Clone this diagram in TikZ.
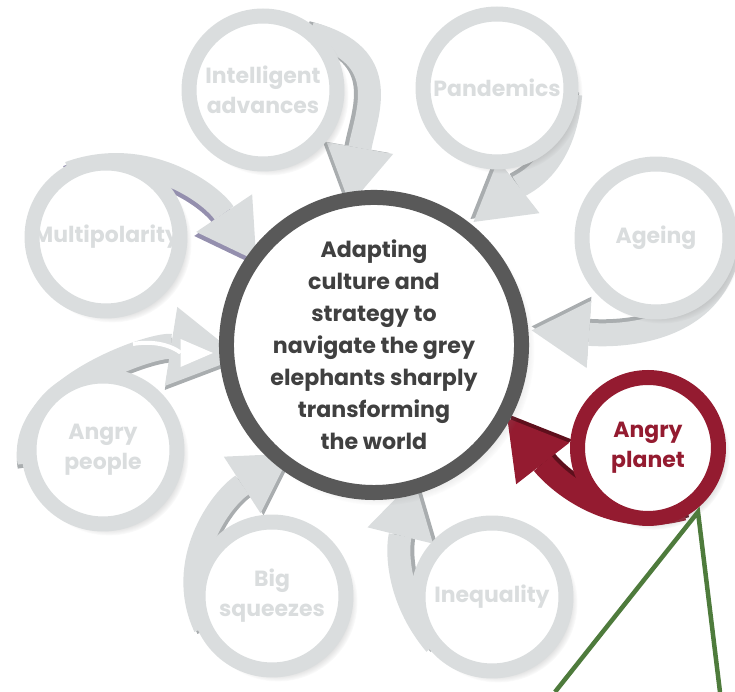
\documentclass[tikz,border=0pt]{standalone}
\usepackage{fontspec}
\newfontfamily\gothic{Poppins}
\usetikzlibrary{arrows.meta,shadows}

\definecolor{ringgrey}{HTML}{DADDDE}
\definecolor{shadegrey}{HTML}{A9ADAF}
\definecolor{coregrey}{HTML}{595959}
\definecolor{coretext}{HTML}{404040}
\definecolor{planetred}{HTML}{941B30}
\definecolor{planetdark}{HTML}{5E0F1C}
\definecolor{polarpurple}{HTML}{948FAE}
\definecolor{leafgreen}{HTML}{4E7B3C}

\pgfdeclarelayer{background}
\pgfsetlayers{background,main}

\begin{document}
\begin{tikzpicture}[x=0.02cm, y=0.02cm,
    ring/.style={circle, draw=ringgrey, fill=white, line width=0.3cm,
      minimum size=2.96cm, inner sep=0pt, outer sep=0pt, align=center,
      text=ringgrey, font=\gothic\bfseries\fontsize{12.5}{17}\selectfont,
      circular drop shadow={shadow xshift=3pt, shadow yshift=-3pt,
        shadow scale=1.08, opacity=0.4}},
    shaft/.style={line width=0.46cm,
      -{Triangle[length=1.15cm, width=1.35cm, line width=0pt]}},
    wideshaft/.style={line width=0.5cm,
      -{Triangle[length=1.4cm, width=1.6cm, line width=0pt]}}]

  \useasboundingbox (0,0) rectangle (735,692);

  % middle
  \node[circle, draw=coregrey, fill=white, line width=0.3cm, minimum size=5.02cm,
    inner sep=0pt, outer sep=0pt, align=center, text=coretext,
    font=\gothic\bfseries\fontsize{12.6}{18.2}\selectfont,
    circular drop shadow={shadow xshift=3pt, shadow yshift=-3pt,
      shadow scale=1.05, opacity=0.4}]
    (core) at (374,347) {Adapting\\culture and\\strategy to\\navigate the grey\\elephants sharply\\transforming\\the world};

  % the eight elephants
  \node[ring] (int) at (263,602) {Intelligent\\advances};
  \node[ring] (pan) at (497,604) {Pandemics};
  \node[ring] (age) at (656,454) {Ageing};
  \node[ring, draw=planetred, text=planetred, minimum size=2.82cm] (planet) at (648,244) {Angry\\planet};
  \node[ring] (ineq) at (492,95) {Inequality};
  \node[ring] (big) at (272,96) {Big\\squeezes};
  \node[ring] (people) at (103,242) {Angry\\people};
  \node[ring] (multi) at (106,455) {Multipolarity};

  % curled arrows, each with a darker copy underneath
  \begin{pgfonlayer}{background}
    \foreach \sat/\from/\to/\o/\i/\l/\cut/\dx/\dy/\col/\shd/\st in {
        int/50/99/-15/80/1.3/-0.11cm/-4/1/ringgrey/shadegrey/shaft,
        pan/-5/52/-95/38/1.1/0.22cm/-3/3/ringgrey/shadegrey/shaft,
        age/-15/6/-105/-4/1/0.22cm/0/4/ringgrey/shadegrey/shaft,
        planet/-60/-28/-165/-52/1/0.1cm/3/3/planetred/planetdark/shaft,
        ineq/220/-75/130/-104/1/-0.16cm/4/0/ringgrey/shadegrey/shaft,
        big/205/-129/115/-147/1/-0.22cm/3/-2/ringgrey/shadegrey/shaft,
        people/190/184/100/171/0.85/-0.27cm/0/-4/ringgrey/shadegrey/wideshaft,
        multi/120/144/20/124/1/-0.06cm/-2/-4/ringgrey/polarpurple/shaft} {
      \draw[\st, \shd, shorten >=\cut, transform canvas={shift={(\dx,\dy)}}]
        (\sat.\from) to[out=\o, in=\i, looseness=\l] (core.\to);
      \draw[\st, \col, shorten >=\cut]
        (\sat.\from) to[out=\o, in=\i, looseness=\l] (core.\to);
    }
    \coordinate (streak) at (133,348);
    \coordinate (streaktip) at (213,339);
    \draw[white, line width=0.08cm, -{Triangle[length=0.65cm, width=0.56cm, line width=0pt]}]
      (streak) to[out=10, in=180] (streaktip);
  \end{pgfonlayer}

  % pointer
  \coordinate (apex) at (698,180);
  \coordinate (footl) at (555,0);
  \coordinate (footr) at (720,0);
  \draw[leafgreen, line width=0.09cm] (footl) -- (apex) -- (footr);
\end{tikzpicture}
\end{document}
